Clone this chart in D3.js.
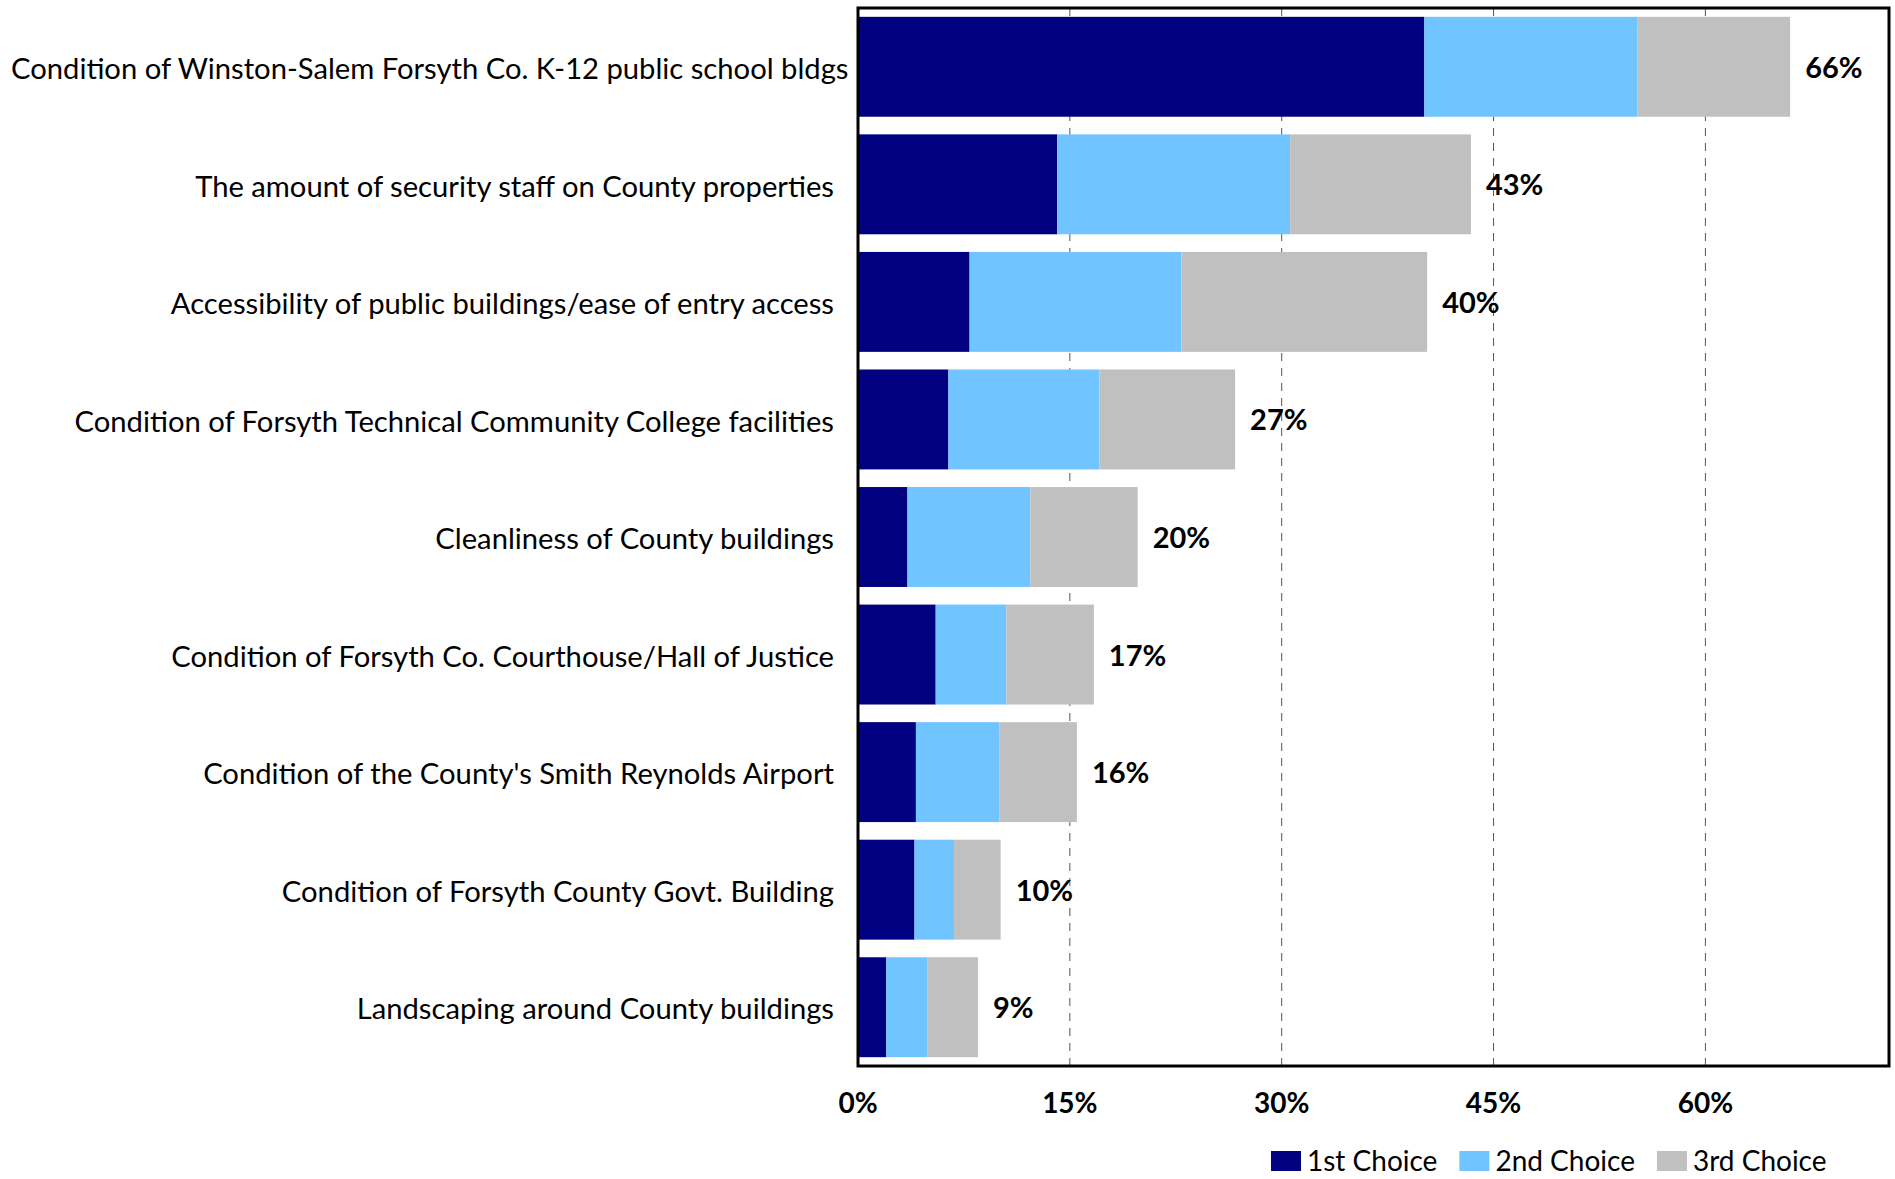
<!DOCTYPE html>
<html>
<head>
<meta charset="utf-8">
<script src="https://cdn.jsdelivr.net/npm/d3@7"></script>
<style>
    body { margin: 0; background: #fff; }
    svg { display: block; font-family: Lato, "Open Sans", sans-serif; }
</style>
</head>
<body>
<svg width="1895" height="1179"></svg>
<script>
    // data
    const categories = [
        'Condition of Winston-Salem Forsyth Co. K-12 public school bldgs',
        'The amount of security staff on County properties',
        'Accessibility of public buildings/ease of entry access',
        'Condition of Forsyth Technical Community College facilities',
        'Cleanliness of County buildings',
        'Condition of Forsyth Co. Courthouse/Hall of Justice',
        "Condition of the County's Smith Reynolds Airport",
        'Condition of Forsyth County Govt. Building',
        'Landscaping around County buildings'
    ];
    const firstChoice = [40.1, 14.1, 7.9, 6.4, 3.5, 5.5, 4.1, 4.0, 2.0];
    const secondChoice = [15.1, 16.5, 15.0, 10.7, 8.7, 5.0, 5.9, 2.8, 2.9];
    const thirdChoice = [10.8, 12.8, 17.4, 9.6, 7.6, 6.2, 5.5, 3.3, 3.6];
    const totalLabels = ['66%', '43%', '40%', '27%', '20%', '17%', '16%', '10%', '9%'];
    const seriesNames = ['1st Choice', '2nd Choice', '3rd Choice'];
    const seriesColors = ['#000080', '#70c4ff', '#c0c0c0'];
    const xTicks = [0, 15, 30, 45, 60];

(() => {
    const rows = categories.map((c, i) => ({
        cat: c,
        '1st Choice': firstChoice[i],
        '2nd Choice': secondChoice[i],
        '3rd Choice': thirdChoice[i],
        label: totalLabels[i]
    }));

    const plotL = 858, plotR = 1889, plotT = 8, plotB = 1066;
    const svg = d3.select('svg');

    const x = d3.scaleLinear().domain([0, 73]).range([plotL, plotR]);
    const y = d3.scaleBand().domain(categories).range([plotT, plotB]).paddingInner(0.15).paddingOuter(0.075);
    const color = d3.scaleOrdinal().domain(seriesNames).range(seriesColors);

    // gridlines
    svg.append('g')
        .selectAll('line')
        .data(xTicks.filter(d => d > 0))
        .join('line')
        .attr('x1', d => x(d)).attr('x2', d => x(d))
        .attr('y1', plotT).attr('y2', plotB)
        .attr('stroke', '#555')
        .attr('stroke-width', 1)
        .attr('stroke-dasharray', '8,7');

    // stacked bars
    const stacked = d3.stack().keys(seriesNames)(rows);
    svg.append('g')
        .selectAll('g')
        .data(stacked)
        .join('g')
        .attr('fill', d => color(d.key))
        .selectAll('rect')
        .data(d => d)
        .join('rect')
        .attr('x', d => x(d[0]))
        .attr('width', d => x(d[1]) - x(d[0]))
        .attr('y', d => y(d.data.cat))
        .attr('height', y.bandwidth());

    // total labels
    svg.append('g')
        .selectAll('text')
        .data(rows)
        .join('text')
        .attr('x', d => x(d['1st Choice'] + d['2nd Choice'] + d['3rd Choice']) + 15)
        .attr('y', d => y(d.cat) + y.bandwidth() / 2)
        .attr('dy', '0.38em')
        .style('font-size', '29px')
        .style('font-weight', 'bold')
        .text(d => d.label);

    // category labels
    svg.append('g')
        .selectAll('text')
        .data(categories)
        .join('text')
        .attr('x', plotL - 24)
        .attr('y', d => y(d) + y.bandwidth() / 2)
        .attr('dy', '0.42em')
        .attr('text-anchor', 'end')
        .style('font-size', '29.2px')
        .text(d => d)
        .each(function () {
            const w = this.getComputedTextLength();
            if (plotL - 24 - w < 11) d3.select(this).attr('x', 11 + w);
        });

    // plot frame
    svg.append('rect')
        .attr('x', plotL).attr('y', plotT)
        .attr('width', plotR - plotL).attr('height', plotB - plotT)
        .attr('fill', 'none')
        .attr('stroke', '#000')
        .attr('stroke-width', 3);

    // x axis labels
    svg.append('g')
        .selectAll('text')
        .data(xTicks)
        .join('text')
        .attr('x', d => x(d))
        .attr('y', 1103)
        .attr('dy', '0.35em')
        .attr('text-anchor', 'middle')
        .style('font-size', '28px')
        .style('font-weight', 'bold')
        .text(d => d + '%');

    // legend
    const legend = svg.append('g');
    let lx = 1271;
    seriesNames.forEach(name => {
        legend.append('rect')
            .attr('x', lx).attr('y', 1151)
            .attr('width', 30).attr('height', 20)
            .attr('fill', color(name));
        const t = legend.append('text')
            .attr('x', lx + 36)
            .attr('y', 1171)
            .style('font-size', '28px')
            .text(name);
        lx += 36 + t.node().getComputedTextLength() + 22;
    });
})();
</script>
</body>
</html>
